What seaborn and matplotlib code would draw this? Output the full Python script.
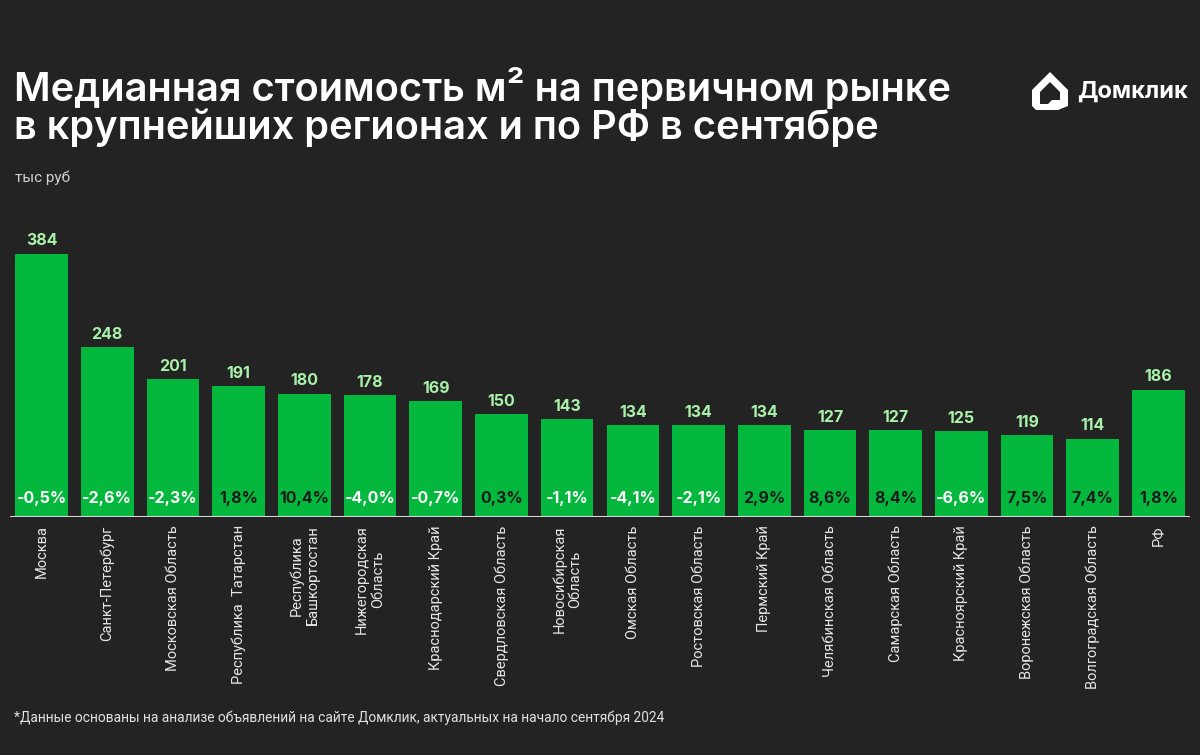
import matplotlib
matplotlib.use("Agg")
import matplotlib.pyplot as plt
import seaborn as sns
import pandas as pd
from matplotlib.patches import Polygon

categories = ["Москва", "Санкт-Петербург", "Московская Область", "Республика  Татарстан",
              "Республика\nБашкортостан", "Нижегородская\nОбласть", "Краснодарский Край",
              "Свердловская Область", "Новосибирская\nОбласть", "Омская Область",
              "Ростовская Область", "Пермский Край", "Челябинская Область", "Самарская Область",
              "Красноярский Край", "Воронежская Область", "Волгоградская Область", "РФ"]
values = [384, 248, 201, 191, 180, 178, 169, 150, 143, 134, 134, 134, 127, 127, 125, 119, 114, 186]
changes = [-0.5, -2.6, -2.3, 1.8, 10.4, -4.0, -0.7, 0.3, -1.1, -4.1, -2.1, 2.9, 8.6, 8.4, -6.6, 7.5, 7.4, 1.8]

BG = "#232323"
GREEN = "#04b83d"
LIGHT = "#a9f2a9"

sns.set_theme(style="white")
plt.rcParams['font.family'] = ['Inter', 'DejaVu Sans']

df = pd.DataFrame({"region": categories, "value": values})

fig = plt.figure(figsize=(12, 7.55), dpi=100, facecolor=BG)
ax = fig.add_axes([10/1200, (755-517)/755, 1180/1200, (517-243)/755])
ax.set_facecolor(BG)
sns.barplot(data=df, x="region", y="value", color=GREEN, saturation=1, width=0.8, ax=ax,
            zorder=2, edgecolor="none", linewidth=0)
ax.set_xlim(-0.48, 17.48)
ax.set_ylim(0, 400)
for s in ax.spines.values():
    s.set_visible(False)
ax.axhline(0, color="#d8d8d8", lw=1.5, zorder=3)
ax.set_yticks([])
ax.set_xlabel("")
ax.set_ylabel("")
ax.tick_params(axis="x", length=0, pad=6)
ax.set_xticks(range(len(categories)))
ax.set_xticklabels(categories, rotation=90, fontsize=10.5, color="#e6e6e6",
                   va="top", ha="center", multialignment="center")
for lbl in ax.get_xticklabels():
    lbl.set_family(['Roboto', 'DejaVu Sans'])

for i, (v, c) in enumerate(zip(values, changes)):
    ax.text(i, v + 8, f"{v}", ha="center", va="bottom", fontsize=11.5,
            fontweight="bold", color=LIGHT)
    s = f"{c:.1f}".replace(".", ",") + "%"
    ax.text(i, 27, s, ha="center", va="center", fontsize=11.5, fontweight="bold",
            color="white" if c < 0 else "#1b1b1b")

fig.text(14/1200, 1 - 88/755, "Медианная стоимость м² на первичном рынке",
         fontsize=28.7, fontweight="semibold", color="white", va="center", ha="left")
fig.text(14/1200, 1 - 128/755, "в крупнейших регионах и по РФ в сентябре",
         fontsize=28.7, fontweight="semibold", color="white", va="center", ha="left")
fig.text(15/1200, 1 - 178/755, "тыс руб", fontsize=11, color="#d0d0d0", va="center", ha="left",
         family=['Roboto', 'DejaVu Sans'])
fig.text(14/1200, 1 - 718/755,
         "*Данные основаны на анализе объявлений на сайте Домклик, актуальных на начало сентября 2024",
         fontsize=9.9, color="#e0e0e0", va="center", ha="left", family=['Roboto', 'DejaVu Sans'])

# logo
def fx(x): return x / 1200
def fy(y): return 1 - y / 755
house = [(1032, 90), (1050, 72), (1068, 90), (1068, 106), (1058, 110), (1036, 110), (1032, 106)]
fig.patches.append(Polygon([(fx(x), fy(y)) for x, y in house], closed=True,
                           transform=fig.transFigure, facecolor="white", edgecolor="none"))
inner = [(1040, 92), (1050, 82), (1060, 92), (1060, 100), (1052, 100), (1048, 104), (1040, 104)]
fig.patches.append(Polygon([(fx(x), fy(y)) for x, y in inner], closed=True,
                           transform=fig.transFigure, facecolor=BG, edgecolor="none"))
fig.text(fx(1077), fy(92), "Домклик", fontsize=17, fontweight="bold", color="white",
         va="center", ha="left")

fig.savefig("out.png", dpi=100, facecolor=BG)
